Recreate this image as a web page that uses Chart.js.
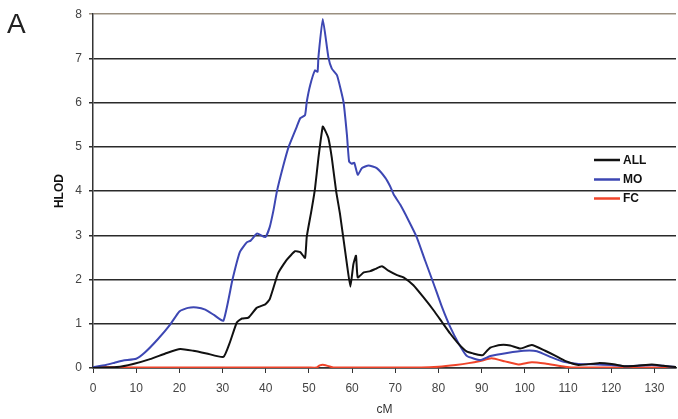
<!DOCTYPE html>
<html>
<head>
<meta charset="utf-8">
<script src="https://cdn.jsdelivr.net/npm/chart.js@4/dist/chart.umd.min.js"></script>
<style>
  html, body { margin: 0; padding: 0; background: #fff; }
  #wrap { width: 678px; height: 419px; position: relative; }
</style>
</head>
<body>
<div id="wrap"><canvas id="c" width="678" height="419"></canvas></div>
<script>
// ---- Data ----
const panelLabel = "A";
const xTitle = "cM";
const yTitle = "HLOD";
const seriesNames = ["ALL", "MO", "FC"];
const xTicks = [0, 10, 20, 30, 40, 50, 60, 70, 80, 90, 100, 110, 120, 130];
const yTicks = [0, 1, 2, 3, 4, 5, 6, 7, 8];

const allCM = [0, 5.5, 9.3, 13.2, 17.1, 20.2, 23.2, 26.3, 30.2, 31.7, 33.3, 34.5, 36, 37.9, 39.9, 40.9, 42.9, 44.9, 46.8, 48, 49.1, 49.5, 50.6, 51.4, 52.2, 53.2, 53.6, 54.5, 55.3, 56.3, 57.2, 58.8, 59.6, 60.3, 60.9, 61.3, 62.7, 64.2, 65.4, 66.9, 68.4, 70.4, 71.9, 74.2, 76.5, 78.9, 80.8, 82.7, 84.7, 86.6, 88, 90, 90.4, 92, 94.3, 96.6, 99, 101.6, 104.7, 107, 109.3, 112.4, 117, 120.1, 123.2, 126, 129.4, 132, 135];
const allHLOD = [0, 0.02, 0.09, 0.2, 0.34, 0.43, 0.39, 0.33, 0.25, 0.58, 1.03, 1.12, 1.14, 1.36, 1.44, 1.55, 2.15, 2.45, 2.64, 2.62, 2.49, 2.97, 3.57, 4.05, 4.75, 5.46, 5.4, 5.2, 4.75, 4.0, 3.48, 2.35, 1.84, 2.35, 2.54, 2.05, 2.16, 2.19, 2.24, 2.3, 2.2, 2.1, 2.05, 1.87, 1.6, 1.3, 1.04, 0.78, 0.54, 0.37, 0.33, 0.29, 0.3, 0.46, 0.52, 0.51, 0.44, 0.52, 0.39, 0.28, 0.16, 0.07, 0.11, 0.09, 0.04, 0.05, 0.08, 0.05, 0.02];

const moCM = [0, 3, 5, 7, 10, 12, 15, 18, 20, 22, 24, 26, 28, 30.2, 32.3, 34, 35.6, 36.5, 38, 39.9, 40.9, 41.8, 42.6, 44, 45.3, 47.2, 48, 49.1, 49.5, 50.3, 51.4, 52, 52.2, 53.2, 54.5, 55.3, 56.5, 58, 58.8, 59.3, 59.9, 60.5, 61.3, 62.3, 63.8, 65.7, 67.7, 68.8, 69.6, 71.1, 73.1, 75, 76.9, 78.9, 80.8, 82.7, 84.7, 86.6, 89.7, 92, 95.9, 99.7, 102.8, 106.2, 109, 112.4, 117, 120, 123.2, 126, 129.4, 132, 135];
const moHLOD = [0.02, 0.07, 0.12, 0.17, 0.21, 0.35, 0.65, 1.0, 1.28, 1.36, 1.37, 1.32, 1.2, 1.07, 2.0, 2.62, 2.84, 2.88, 3.04, 2.96, 3.18, 3.57, 4.0, 4.55, 5.0, 5.46, 5.65, 5.72, 6.02, 6.4, 6.73, 6.7, 7.03, 7.89, 7.03, 6.77, 6.62, 6.02, 5.27, 4.67, 4.62, 4.64, 4.37, 4.52, 4.58, 4.52, 4.3, 4.11, 3.93, 3.7, 3.33, 2.95, 2.43, 1.9, 1.38, 0.93, 0.55, 0.27, 0.18, 0.27, 0.34, 0.39, 0.38, 0.24, 0.14, 0.09, 0.08, 0.07, 0.04, 0.05, 0.07, 0.05, 0.02];

const fcCM = [0, 10, 30, 50, 51.8, 52.5, 53.5, 55, 56, 70, 76, 80, 84, 87, 89.7, 92.3, 95.4, 98.5, 101.6, 104.7, 109.3, 112, 135];
const fcHLOD = [0.02, 0.01, 0.01, 0.01, 0.01, 0.06, 0.07, 0.03, 0.01, 0.01, 0.01, 0.03, 0.07, 0.11, 0.16, 0.22, 0.15, 0.08, 0.13, 0.1, 0.03, 0.01, 0.01];

const seriesColors = ["#111111", "#3d47b3", "#f0442a"];

// ---- Build datasets ----
function pts(xs, ys) { return xs.map((x, i) => ({ x: x, y: ys[i] })); }
const seriesData = [pts(allCM, allHLOD), pts(moCM, moHLOD), pts(fcCM, fcHLOD)];
// draw order: FC bottom, MO, ALL on top
const datasets = seriesNames.map((name, i) => ({
  label: name,
  data: seriesData[i],
  borderColor: seriesColors[i],
  backgroundColor: seriesColors[i],
  borderWidth: 2,
  pointRadius: 0,
  tension: 0.15,
  fill: false,
  order: i === 0 ? 0 : (i === 1 ? 1 : 2)
}));

const FONT = "'Liberation Sans', Arial, Helvetica, sans-serif";

const decorPlugin = {
  id: 'decor',
  afterDraw(chart) {
    const ctx = chart.ctx;
    ctx.save();
    // panel label
    ctx.fillStyle = '#222';
    ctx.font = '28px ' + FONT;
    ctx.textAlign = 'left';
    ctx.textBaseline = 'alphabetic';
    ctx.fillText(panelLabel, 7, 33);
    // legend
    const rows = [160, 179.5, 198.5];
    chart.data.datasets.forEach((ds, i) => {
      const y = rows[i];
      ctx.strokeStyle = ds.borderColor;
      ctx.lineWidth = 2.5;
      ctx.beginPath();
      ctx.moveTo(594, y);
      ctx.lineTo(620, y);
      ctx.stroke();
      ctx.fillStyle = '#111';
      ctx.font = 'bold 12px ' + FONT;
      ctx.textBaseline = 'middle';
      ctx.fillText(ds.label, 623, y + 0.5);
    });
    ctx.restore();
  }
};

new Chart(document.getElementById('c'), {
  type: 'line',
  data: { datasets: datasets },
  plugins: [decorPlugin],
  options: {
    responsive: false,
    animation: false,
    devicePixelRatio: 1,
    layout: { padding: { top: 12, right: 2, left: 0, bottom: 0 } },
    plugins: { legend: { display: false }, tooltip: { enabled: false } },
    scales: {
      x: {
        type: 'linear',
        min: 0,
        max: 135,
        afterFit(s) { s.height = 51; },
        afterBuildTicks(s) { s.ticks = xTicks.map(v => ({ value: v })); },
        ticks: { stepSize: 10, color: '#444', font: { family: FONT, size: 12 }, padding: 8, maxRotation: 0, autoSkip: false },
        grid: { display: true, drawOnChartArea: false, drawTicks: true, tickLength: 5, color: '#333', lineWidth: 1 },
        border: { display: true, color: '#333', width: 1.5 },
        title: { display: true, text: xTitle, color: '#333', font: { family: FONT, size: 12 }, padding: { top: 0, bottom: 2 } }
      },
      y: {
        type: 'linear',
        min: 0,
        max: 8,
        afterFit(s) { s.width = 93; },
        afterBuildTicks(s) { s.ticks = yTicks.map(v => ({ value: v })); },
        ticks: { stepSize: 1, color: '#444', font: { family: FONT, size: 12 }, padding: 7 },
        grid: {
          color: (c) => (c.tick && c.tick.value === 8) ? '#9a8f80' : '#2a2a2a',
          lineWidth: 1.5,
          tickLength: 4,
          drawTicks: true
        },
        border: { display: true, color: '#333', width: 1.5 },
        title: { display: true, text: yTitle, color: '#111', font: { family: FONT, size: 12, weight: 'bold' }, padding: { top: 52, bottom: 0 } }
      }
    }
  }
});
</script>
</body>
</html>
